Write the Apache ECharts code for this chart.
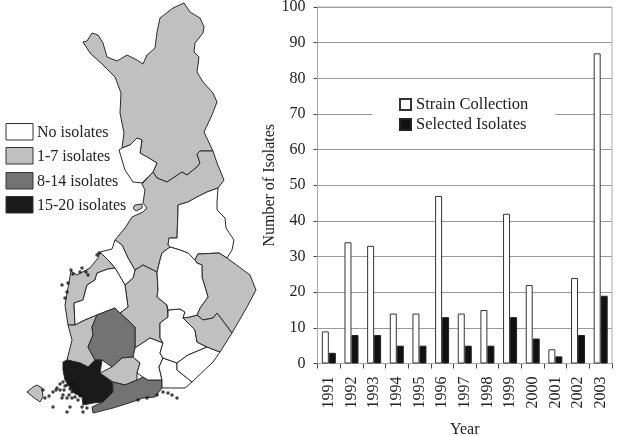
<!DOCTYPE html>
<html><head><meta charset="utf-8">
<style>html,body{margin:0;padding:0;background:#fff}#c{width:617px;height:436px}</style>
<script src="https://cdn.jsdelivr.net/npm/echarts@6/dist/echarts.min.js"></script>
</head><body><div id="c"></div>
<script>
const years=['1991','1992','1993','1994','1995','1996','1997','1998','1999','2000','2001','2002','2003'];
const strainCollection=[9,34,33,14,14,47,14,15,42,22,4,24,87];
const selectedIsolates=[3,8,8,5,5,13,5,5,13,7,2,8,19];
const yTicks={min:0,max:100,interval:10};
const classNames=['No isolates','1-7 isolates','8-14 isolates','15-20 isolates'];
const classColors=['#ffffff','#c0c0c0','#737373','#1a1a1a'];

const lapland=[[184,3],[190,12],[200,18],[204,27],[203,33],[195,43],[194,52],[199,57],[197,72],[203,82],[213,93],[217,102],[212,115],[204,132],[213,151],[200,151],[197,154],[200,163],[197,167],[187,175],[182,172],[173,178],[167,182],[157,178],[153,172],[157,163],[147,157],[140,153],[142,140],[137,138],[130,145],[122,148],[124,133],[120,113],[121,93],[115,77],[103,65],[90,53],[83,42],[87,41],[92,33],[98,35],[103,43],[107,57],[117,61],[127,55],[137,60],[143,64],[147,55],[155,48],[157,32],[160,18],[173,8]];
const kemi=[[122,148],[130,145],[137,138],[142,140],[140,153],[147,157],[157,163],[153,172],[142,183],[133,182],[125,170],[119,150]];
const oulu=[[213,151],[217,163],[224,180],[218,188],[207,192],[197,197],[188,202],[178,205],[178,210],[177,238],[169,238],[168,245],[170,247],[162,253],[160,260],[157,272],[143,265],[135,270],[128,258],[122,245],[115,240],[125,228],[132,217],[143,212],[147,208],[143,203],[145,190],[142,184],[153,172],[157,178],[167,182],[173,178],[182,172],[187,175],[197,167],[200,163],[197,154],[200,151]];
const kainuu=[[218,188],[217,202],[217,210],[225,218],[226,228],[234,240],[232,250],[227,258],[219,253],[198,254],[195,260],[188,253],[180,250],[170,247],[168,245],[169,238],[177,238],[178,210],[178,205],[188,202],[197,197],[207,192]];
const keskiSuomi=[[143,265],[157,272],[158,290],[157,297],[167,305],[168,317],[160,323],[160,338],[163,343],[150,338],[135,348],[135,327],[120,313],[128,307],[125,285],[133,278],[135,270]];
const keskiPohjanmaa=[[115,240],[122,245],[128,258],[135,270],[133,278],[125,285],[115,268],[108,260],[100,252],[112,249]];
const pohjanmaa=[[100,252],[108,260],[115,268],[108,269],[97,273],[95,280],[87,285],[83,300],[74,303],[75,325],[68,325],[65,305],[68,288],[71,271],[77,275],[90,268],[98,258]];
const etelaPohjanmaa=[[97,273],[108,269],[115,268],[125,285],[128,307],[120,313],[115,308],[97,315],[85,320],[75,325],[74,303],[83,300],[87,285],[95,280]];
const satakunta=[[68,325],[75,325],[85,320],[97,315],[92,327],[93,335],[88,347],[95,360],[88,367],[80,363],[67,360],[72,340]];
const pirkanmaa=[[97,315],[115,308],[120,313],[135,327],[135,348],[133,357],[122,358],[112,367],[102,360],[95,360],[88,347],[93,335],[92,327]];
const varsinais=[[63,362],[67,360],[80,363],[88,367],[95,360],[102,360],[100,373],[112,382],[113,392],[103,402],[93,403],[83,405],[82,397],[73,392],[65,380],[63,370]];
const kantaHame=[[100,373],[112,367],[122,358],[133,357],[140,363],[137,373],[137,380],[125,385],[113,382]];
const uusimaa=[[113,382],[125,385],[137,380],[143,377],[148,380],[162,380],[162,388],[155,397],[143,398],[132,402],[113,408],[93,413],[92,407],[103,402],[113,392]];
const paijatHame=[[135,348],[150,338],[163,343],[160,353],[163,358],[159,367],[162,380],[148,380],[143,377],[137,373],[140,363],[133,357]];
const kymi=[[159,367],[163,358],[177,363],[177,370],[192,382],[185,388],[175,388],[162,388],[162,380]];
const etelaSavo=[[168,310],[180,309],[185,312],[183,318],[195,330],[197,342],[207,347],[200,350],[188,355],[177,363],[163,358],[160,353],[163,343],[160,338],[160,323],[168,317]];
const etelaKarjala=[[177,363],[188,355],[200,350],[207,347],[220,352],[213,362],[192,382],[177,370]];
const karjala=[[195,260],[198,254],[219,253],[227,258],[250,275],[256,290],[247,307],[232,333],[217,313],[213,318],[203,320],[197,315],[200,308],[208,297],[202,277],[202,265],[197,263]];
const savoSouth=[[197,315],[203,320],[213,318],[217,313],[232,333],[220,352],[207,347],[197,342],[195,330],[183,318],[190,317]];
const pohjoisSavo=[[157,272],[160,260],[162,253],[170,247],[180,250],[188,253],[195,260],[197,263],[202,265],[202,277],[208,297],[200,308],[197,315],[190,317],[183,318],[185,312],[180,309],[168,310],[167,305],[157,297],[158,290]];
const aland=[[27,392],[33,387],[37,385],[42,388],[43,397],[40,402],[33,397]];
const kvarkenIsland=[[133,208],[135,205],[142,204],[142,208],[136,211]];

const mapRegions=[
 ['lapland',lapland,1],['kemi',kemi,0],['oulu',oulu,1],['kainuu',kainuu,0],['keskiSuomi',keskiSuomi,1],
 ['keskiPohjanmaa',keskiPohjanmaa,0],['pohjanmaa',pohjanmaa,1],['etelaPohjanmaa',etelaPohjanmaa,0],
 ['satakunta',satakunta,1],['pirkanmaa',pirkanmaa,2],['varsinais',varsinais,3],['kantaHame',kantaHame,1],
 ['uusimaa',uusimaa,2],['paijatHame',paijatHame,0],['kymi',kymi,0],['etelaSavo',etelaSavo,0],
 ['etelaKarjala',etelaKarjala,0],['karjala',karjala,1],['savoSouth',savoSouth,1],['pohjoisSavo',pohjoisSavo,0],
 ['aland',aland,1],['kvarkenIsland',kvarkenIsland,1]
];
const islands=[[62,285],[68,283],[67,292],[65,298],[71,270],[73,274],[80,272],[82,268],[86,272],[88,275],[97,255],[99,253],
 [43,390],[45,398],[49,396],[53,392],[57,388],[60,384],[63,382],[67,385],[72,384],[63,395],[67,398],[72,398],[75,397],[78,392],[75,388],[70,389],[53,407],[67,412],[70,407],[83,412],[87,408],[82,407],
 [163,392],[168,393],[172,395],[177,398],[157,395],[147,398],[138,400],[60,390],[56,390],[64,390],[72,392],[65,386],[62,398],[69,395],[76,393],[80,396],[78,400]];

const fc={type:'FeatureCollection',features:mapRegions.map(r=>({type:'Feature',properties:{name:r[0]},
  geometry:{type:'Polygon',coordinates:[r[1].concat([r[1][0]]).map(p=>[p[0],-p[1]])]}}))};
echarts.registerMap('finland',fc);

const serif='"Liberation Serif","Times New Roman",serif', ink='#222';
const chart=echarts.init(document.getElementById('c'),null,{renderer:'canvas'});
const legendTops=[123,147,172,196];
const graphic=[];
classNames.forEach((n,i)=>{
  graphic.push({type:'rect',left:5.5,top:legendTops[i],shape:{width:27,height:16.5},style:{fill:classColors[i],stroke:'#333',lineWidth:1}});
  graphic.push({type:'text',left:37,top:legendTops[i]+2,style:{text:n,font:'16px '+serif,fill:ink}});
});
chart.setOption({
  animation:false,backgroundColor:'#fff',
  geo:{map:'finland',roam:false,silent:true,aspectScale:1,
    boundingCoords:[[0,0],[617,-436]],left:0,top:0,width:617,height:436,
    label:{show:false},
    itemStyle:{areaColor:'#fff',borderColor:'#2a2a2a',borderWidth:1},
    regions:mapRegions.map(r=>({name:r[0],itemStyle:{areaColor:classColors[r[2]]}}))},
  grid:{left:317.5,right:5,top:7,bottom:72.5,show:true,borderColor:'#aaa',borderWidth:1,backgroundColor:'transparent',z:1,outerBoundsMode:'none'},
  legend:{orient:'vertical',left:372,top:88,itemWidth:11,itemHeight:11,itemGap:3,
    backgroundColor:'#fff',padding:[8,27,8,27],icon:'rect',
    selectedMode:false,textStyle:{fontFamily:serif,fontSize:16.5,color:ink},
    data:['Strain Collection','Selected Isolates']},
  xAxis:{type:'category',data:years,name:'Year',nameLocation:'middle',nameGap:58,
    nameTextStyle:{fontFamily:serif,fontSize:16,color:ink},
    axisLine:{show:true,lineStyle:{color:'#444',width:1}},
    axisTick:{show:true,length:5,alignWithLabel:false,lineStyle:{color:'#444'}},
    axisLabel:{rotate:90,interval:0,fontFamily:serif,fontSize:16,color:ink,margin:13}},
  yAxis:{type:'value',min:yTicks.min,max:yTicks.max,interval:yTicks.interval,
    name:'Number of Isolates',nameLocation:'middle',nameGap:40,
    nameTextStyle:{fontFamily:serif,fontSize:16,color:ink},
    axisLine:{show:true,lineStyle:{color:'#444',width:1}},
    axisTick:{show:true,length:4,lineStyle:{color:'#444'}},
    axisLabel:{fontFamily:serif,fontSize:16,color:ink,margin:12},
    splitLine:{show:true,lineStyle:{color:'#999',width:1}}},
  graphic:graphic,
  series:[
    {name:'Strain Collection',type:'bar',data:strainCollection,barWidth:7,barGap:'0%',
     itemStyle:{color:'#fff',borderColor:'#333',borderWidth:1}},
    {name:'Selected Isolates',type:'bar',data:selectedIsolates,barWidth:7,
     itemStyle:{color:'#111',borderColor:'#222',borderWidth:1}},
    {name:'islands',type:'scatter',coordinateSystem:'geo',data:islands.map(p=>[p[0],-p[1]]),symbol:'circle',symbolSize:3.5,silent:true,
     itemStyle:{color:'#111'}}
  ]
});
</script></body></html>
